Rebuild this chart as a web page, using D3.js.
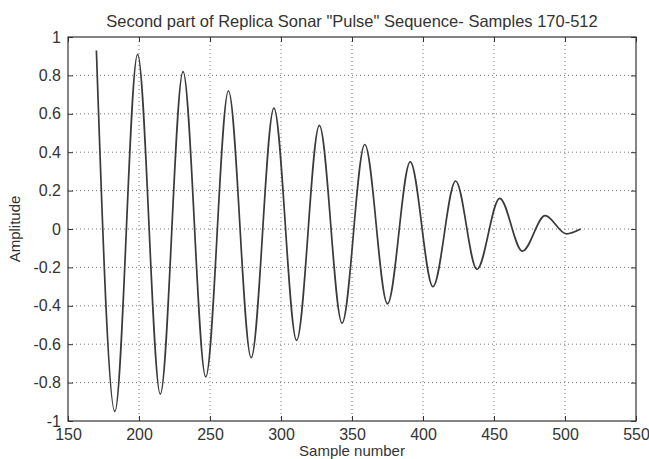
<!DOCTYPE html>
<html>
<head>
<meta charset="utf-8">
<script src="https://cdn.jsdelivr.net/npm/d3@7"></script>
<style>
  body { margin: 0; background: #fff; }
  text { font-family: "Liberation Sans", Arial, sans-serif; fill: #333; }
</style>
</head>
<body>
<div id="chart"></div>
<script>
// peaks and troughs (sample number, amplitude)
const samples = [170, 183, 199, 215, 231, 247, 263, 279, 295, 311, 327, 343, 359, 375, 391, 407, 423, 438, 454, 470, 486, 501, 511];
const amplitude = [0.93, -0.95, 0.91, -0.86, 0.82, -0.77, 0.72, -0.67, 0.63, -0.58, 0.54, -0.49, 0.44, -0.39, 0.35, -0.30, 0.25, -0.21, 0.16, -0.115, 0.07, -0.025, 0.0];

const xTicks = [150, 200, 250, 300, 350, 400, 450, 500, 550];
const yTicks = [-1, -0.8, -0.6, -0.4, -0.2, 0, 0.2, 0.4, 0.6, 0.8, 1];

const titleText = 'Second part of Replica Sonar "Pulse" Sequence- Samples 170-512';
const xLabel = "Sample number";
const yLabel = "Amplitude";

const svgWidth = 649;
const svgHeight = 459;
const margin = { top: 37, right: 13, bottom: 38, left: 68 };
const width = svgWidth - margin.left - margin.right;
const height = svgHeight - margin.top - margin.bottom;

const svg = d3.select("#chart")
    .append("svg")
    .attr("width", svgWidth)
    .attr("height", svgHeight)
    .append("g")
    .attr("transform", `translate(${margin.left},${margin.top})`);

const x = d3.scaleLinear().domain([150, 550]).range([0, width]);
const y = d3.scaleLinear().domain([-1, 1]).range([height, 0]);

// dotted grid
svg.append("g")
    .selectAll("line")
    .data(xTicks.slice(1, -1))
    .enter()
    .append("line")
    .attr("x1", d => x(d)).attr("x2", d => x(d))
    .attr("y1", 0).attr("y2", height)
    .attr("stroke", "#777")
    .attr("stroke-dasharray", "1,3");

svg.append("g")
    .selectAll("line")
    .data(yTicks.slice(1, -1))
    .enter()
    .append("line")
    .attr("x1", 0).attr("x2", width)
    .attr("y1", d => y(d)).attr("y2", d => y(d))
    .attr("stroke", "#777")
    .attr("stroke-dasharray", "1,3");

// axes, matlab style ticks pointing inward
const fmt = d => String(+d.toFixed(1));

svg.append("g")
    .attr("transform", `translate(0,${height})`)
    .call(d3.axisBottom(x).tickValues(xTicks).tickFormat(fmt).tickSizeInner(-5).tickSizeOuter(0).tickPadding(8));
svg.append("g")
    .call(d3.axisLeft(y).tickValues(yTicks).tickFormat(fmt).tickSizeInner(-5).tickSizeOuter(0).tickPadding(7));
svg.append("g")
    .call(d3.axisTop(x).tickValues(xTicks).tickFormat("").tickSizeInner(-5).tickSizeOuter(0));
svg.append("g")
    .attr("transform", `translate(${width},0)`)
    .call(d3.axisRight(y).tickValues(yTicks).tickFormat("").tickSizeInner(-5).tickSizeOuter(0));

svg.selectAll(".domain").remove();
svg.selectAll(".tick line").attr("stroke", "#333");
svg.selectAll(".tick text").attr("font-size", "16px").attr("fill", "#333");

svg.append("rect")
    .attr("width", width)
    .attr("height", height)
    .attr("fill", "none")
    .attr("stroke", "#333")
    .attr("stroke-width", 1.2);

// the pulse
const line = d3.line()
    .x(d => x(d[0]))
    .y(d => y(d[1]))
    .curve(d3.curveMonotoneX);

svg.append("path")
    .datum(d3.zip(samples, amplitude))
    .attr("d", line)
    .attr("fill", "none")
    .attr("stroke", "#3a3a3a")
    .attr("stroke-width", 1.7);

// labels
svg.append("text")
    .text(titleText)
    .attr("x", width / 2)
    .attr("y", -10)
    .attr("text-anchor", "middle")
    .attr("font-size", "16.5px");

svg.append("text")
    .text(xLabel)
    .attr("x", width / 2)
    .attr("y", height + 35)
    .attr("text-anchor", "middle")
    .attr("font-size", "15px");

svg.append("text")
    .text(yLabel)
    .attr("transform", `translate(${-48},${height / 2}) rotate(-90)`)
    .attr("text-anchor", "middle")
    .attr("font-size", "15px");
</script>
</body>
</html>
